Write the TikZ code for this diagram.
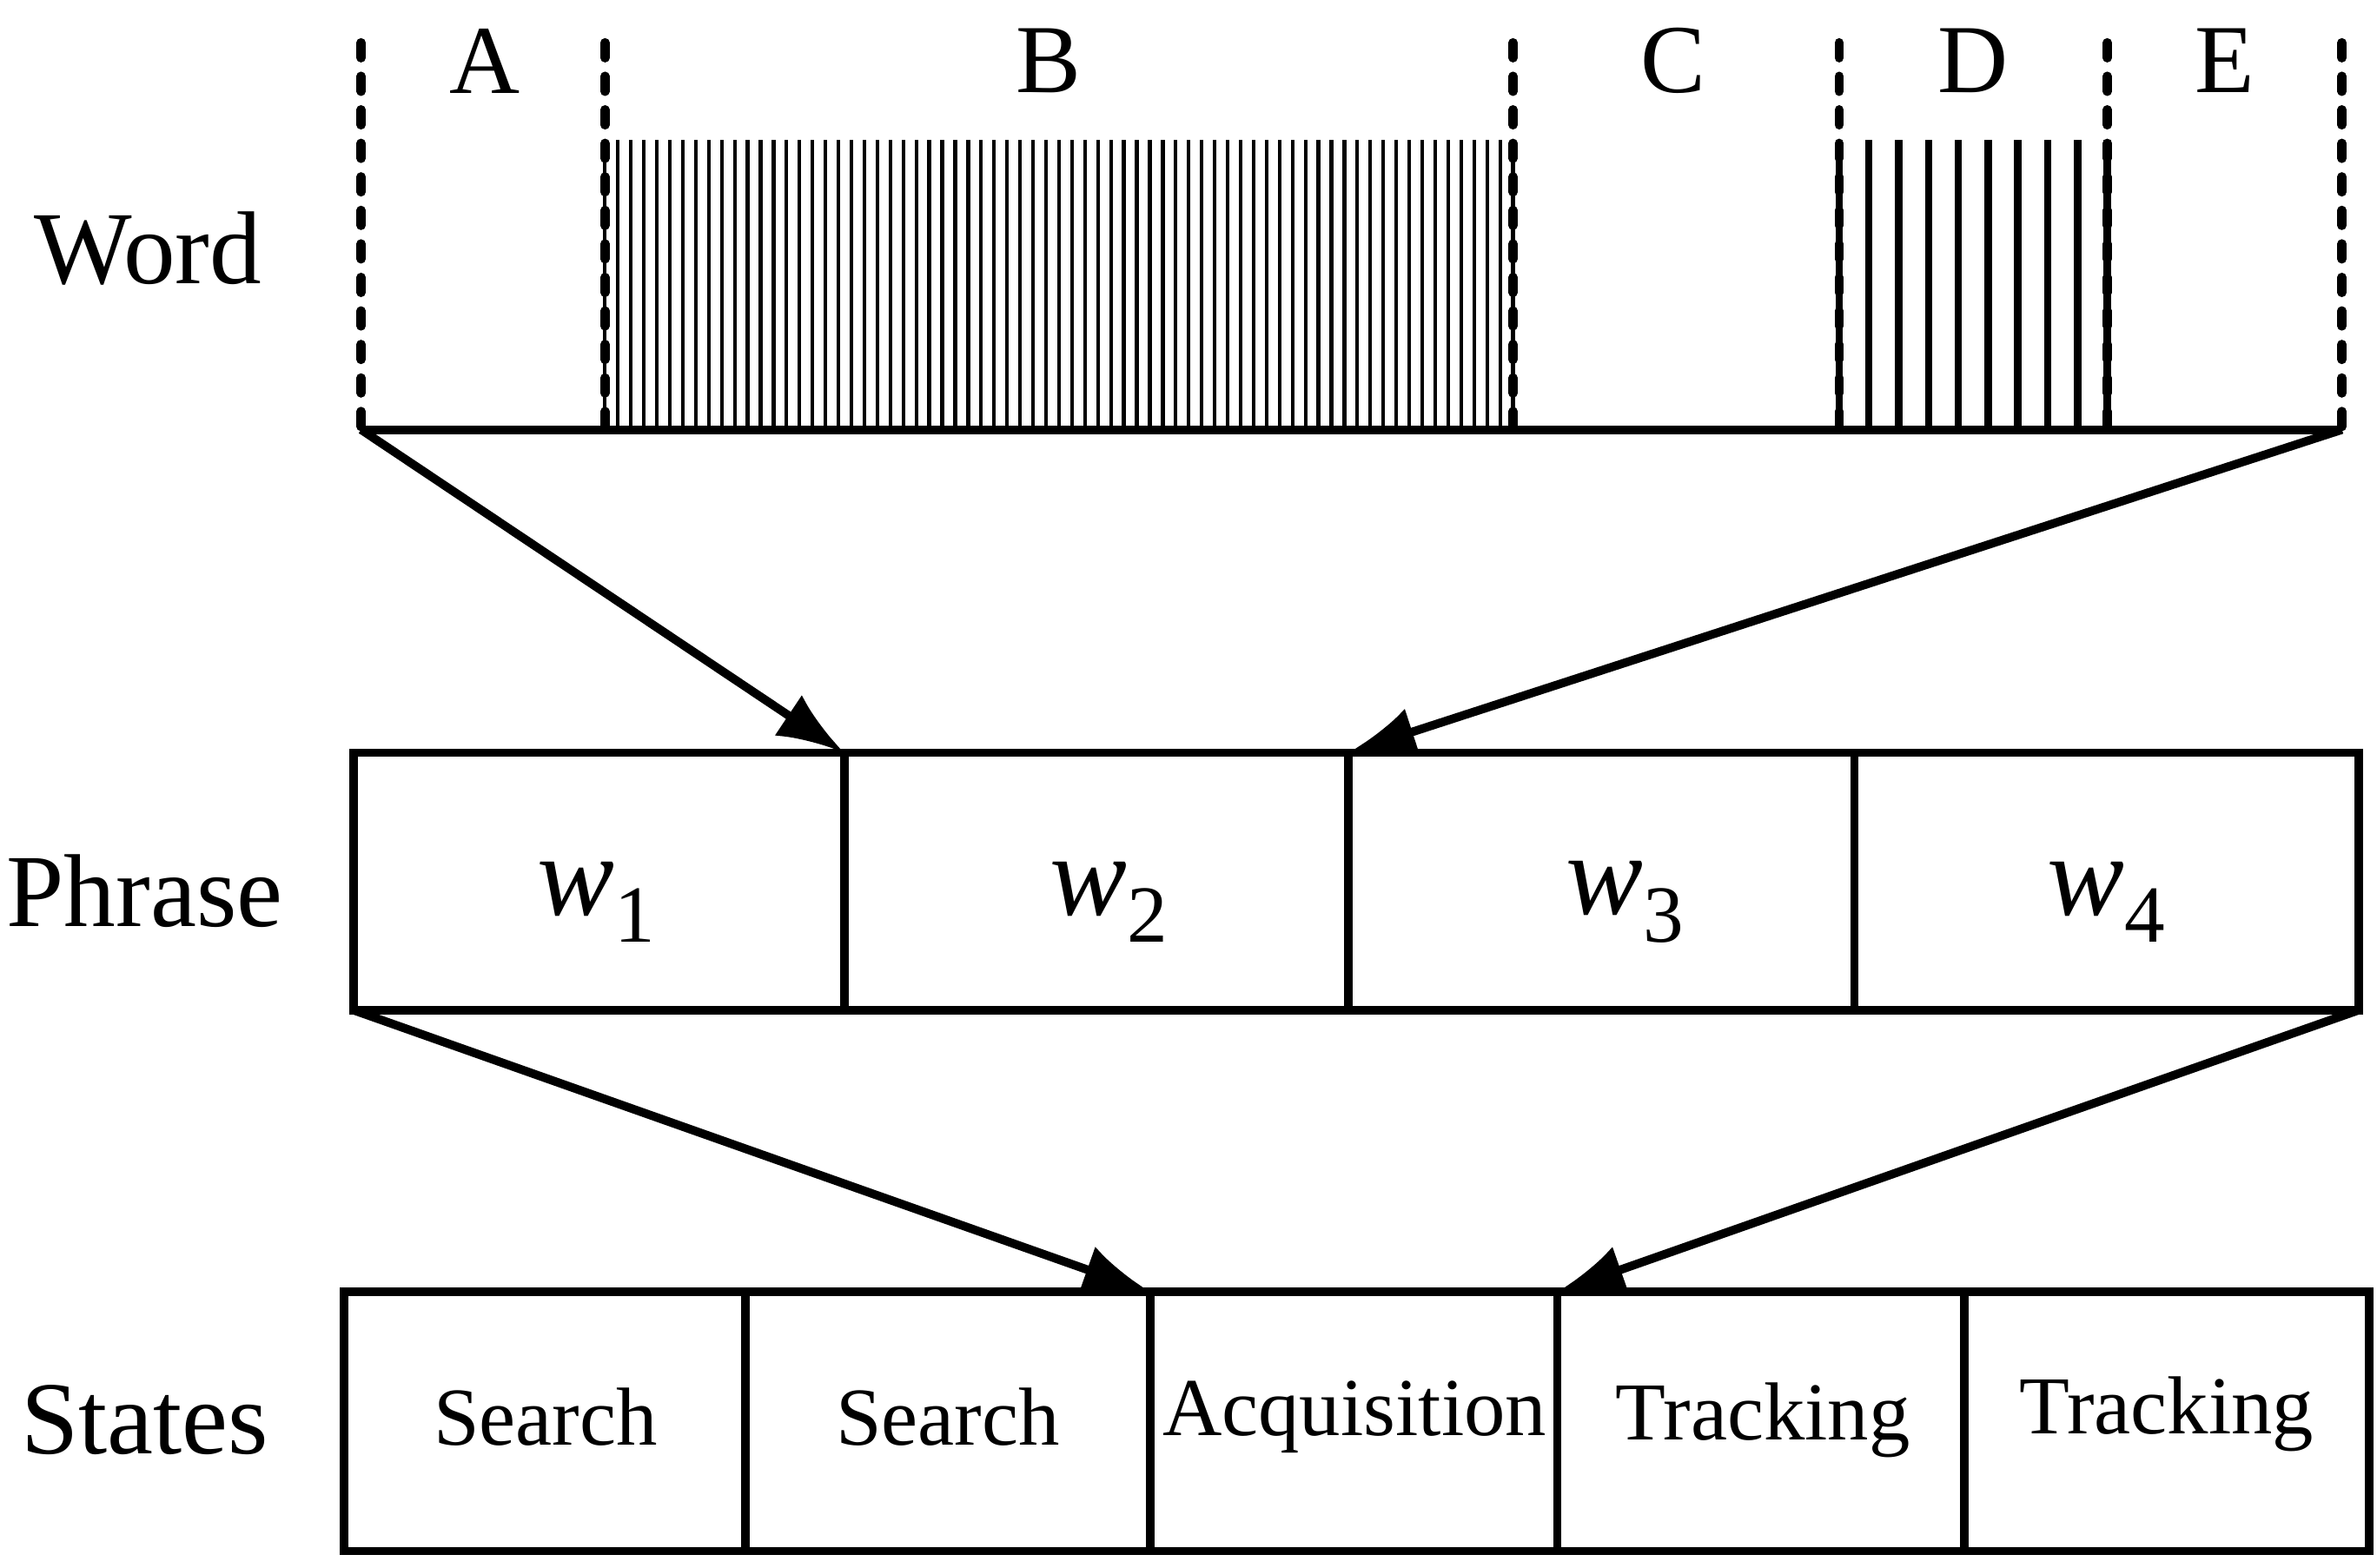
\documentclass[tikz,border=0pt]{standalone}
\usepackage{fontspec}
\setmainfont{Liberation Serif}
\usetikzlibrary{arrows.meta}
\begin{document}
\begin{tikzpicture}[x=0.5pt,y=-0.5pt,
  lw/.style={line width=2.8pt},
  dsh/.style={line width=3pt,line cap=round,dash pattern=on 5pt off 6pt},
  tick/.style={line width=1.2pt},
  dtick/.style={line width=2.4pt},
  arr/.style={line width=2.8pt,-{Latex[length=22pt,width=16pt]}},
  lab/.style={font=\fontsize{34}{40}\selectfont},
  seg/.style={font=\fontsize{32}{38}\selectfont},
  st/.style={font=\fontsize{27}{32}\selectfont},
  wl/.style={font=\fontsize{38}{44}\selectfont}]
\useasboundingbox (0,0) rectangle (1560,1029);
% word row
\coordinate (wl) at (237,282);
\coordinate (wr) at (1537,282);
\foreach \x in {237,397,993,1207,1383,1537} \draw[dsh] (\x,28) -- (\x,282);
\foreach \i in {0,...,70} \draw[tick] ({397+\i*8.5143},92) -- ({397+\i*8.5143},282);
\foreach \i in {0,...,9} \draw[dtick] ({1207+\i*19.556},92) -- ({1207+\i*19.556},282);
\draw[lw] (wl) -- (wr);
\node[seg] (la) at (318,40) {A};
\node[seg] (lb) at (688,40) {B};
\node[seg] (lc) at (1098,40) {C};
\node[seg] (ld) at (1295,40) {D};
\node[seg] (le) at (1460,40) {E};
\node[lab] (word) at (97,163) {Word};
\node[lab] (phrase) at (95,585) {Phrase};
\node[lab] (states) at (95,932) {States};
% phrase row
\draw[lw] (232,494) rectangle (1548,663);
\foreach \x in {554,885,1217} \draw[lw] (\x,494) -- (\x,663);
\coordinate (p1) at (554,494);
\coordinate (p2) at (885,494);
\coordinate (pl) at (232,663);
\coordinate (pr) at (1548,663);
\node[wl] (w1) at (392,592) {\textit{w}\textsubscript{1}};
\node[wl] (w2) at (728,592) {\textit{w}\textsubscript{2}};
\node[wl] (w3) at (1067,592) {\textit{w}\textsubscript{3}};
\node[wl] (w4) at (1383,592) {\textit{w}\textsubscript{4}};
% states row
\draw[lw] (226,848) rectangle (1555,1018);
\foreach \x in {489,755,1022,1289} \draw[lw] (\x,848) -- (\x,1018);
\coordinate (s1) at (755,848);
\coordinate (s2) at (1022,848);
\node[st] (t1) at (358,930) {Search};
\node[st] (t2) at (622,930) {Search};
\node[st] (t3) at (889,930) {Acquisition};
\node[st] (t4) at (1157,932) {Tracking};
\node[st] (t5) at (1422,928) {Tracking};
% arrows
\draw[arr] (wl) -- (p1);
\draw[arr] (wr) -- (p2);
\draw[arr] (pl) -- (s1);
\draw[arr] (pr) -- (s2);
\end{tikzpicture}
\end{document}
